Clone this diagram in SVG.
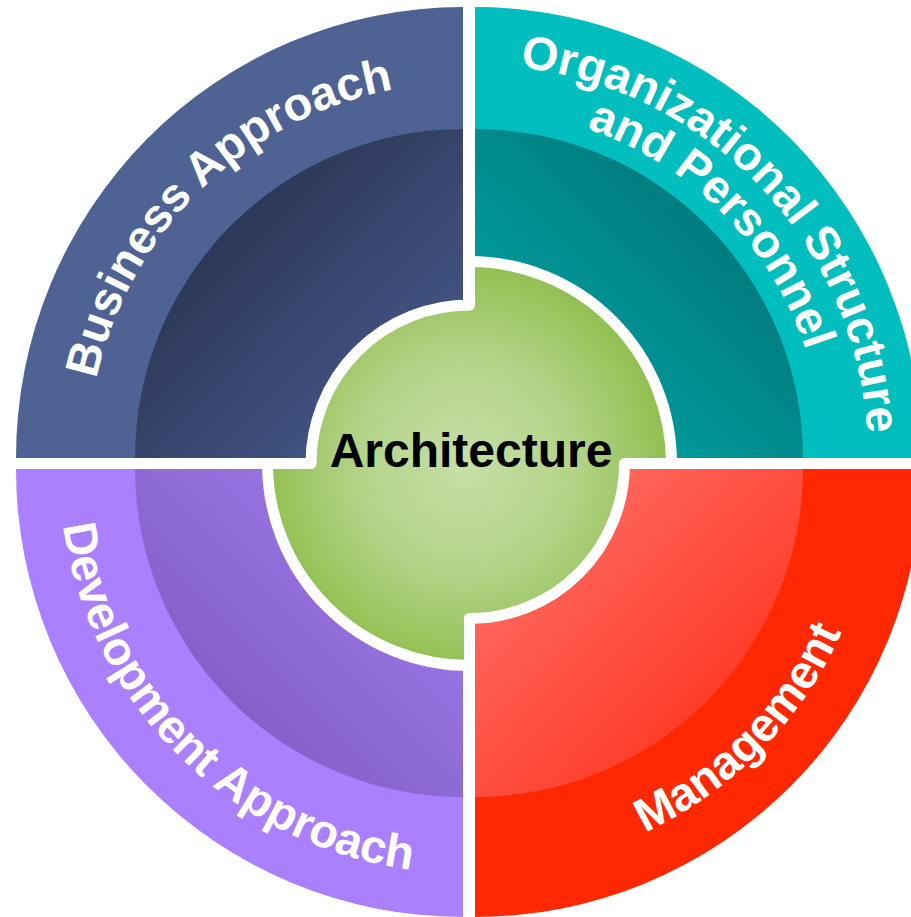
<svg xmlns="http://www.w3.org/2000/svg" xmlns:xlink="http://www.w3.org/1999/xlink" width="911" height="917" viewBox="0 0 911 917">
<style>
.lbl{font-family:"Liberation Sans",Arial,sans-serif;font-weight:bold;font-size:47px;fill:#ffffff}
.ctr{font-family:"Liberation Sans",Arial,sans-serif;font-weight:bold;font-size:48px;fill:#000000}
</style>
<defs>
<linearGradient id="gBlue" gradientUnits="userSpaceOnUse" x1="230" y1="225" x2="440" y2="435"><stop offset="0" stop-color="#2c3857"/><stop offset="1" stop-color="#4a5c90"/></linearGradient>
<linearGradient id="gTeal" gradientUnits="userSpaceOnUse" x1="710" y1="225" x2="500" y2="435"><stop offset="0" stop-color="#007c7e"/><stop offset="1" stop-color="#00a8a8"/></linearGradient>
<linearGradient id="gRed" gradientUnits="userSpaceOnUse" x1="500" y1="495" x2="710" y2="705"><stop offset="0" stop-color="#ff716b"/><stop offset="1" stop-color="#ff3c28"/></linearGradient>
<linearGradient id="gPurple" gradientUnits="userSpaceOnUse" x1="230" y1="705" x2="440" y2="495"><stop offset="0" stop-color="#8560c8"/><stop offset="1" stop-color="#a07ef0"/></linearGradient>
<radialGradient id="gGreen" gradientUnits="userSpaceOnUse" cx="465" cy="465" r="200"><stop offset="0" stop-color="#c6dfa6"/><stop offset="0.55" stop-color="#b2d387"/><stop offset="1" stop-color="#92c052"/></radialGradient>
<path id="pBlue" d="M172.6,695.2 A375,375 0 0 1 707.8,173.9"/>
<path id="pTeal1" d="M230.4,150.4 A393,393 0 0 1 769.4,718.4"/>
<path id="pTeal2" d="M252.9,190.1 A348,348 0 0 1 740.2,683.3"/>
<path id="pRed" d="M220.1,778.6 A401,401 0 0 0 779.7,208.3"/>
<path id="pPurple" d="M152,211.2 A404,404 0 0 0 724.6,776.9"/>
</defs>
<rect width="911" height="917" fill="#ffffff"/>
<g id="business-approach">
<path d="M463,458 L16,458 A447,451 0 0 1 463,7 Z" fill="#4e6393"/>
<path d="M463,458 L135,458 A328,329 0 0 1 463,129 Z" fill="url(#gBlue)"/>
<text class="lbl"><textPath xlink:href="#pBlue" href="#pBlue" startOffset="50%" text-anchor="middle">Business Approach</textPath></text>
</g>
<g id="organizational-structure">
<path d="M475,458 L475,7 A447,451 0 0 1 922,458 Z" fill="#00bdbe"/>
<path d="M475,458 L475,129 A328,329 0 0 1 803,458 Z" fill="url(#gTeal)"/>
<text class="lbl"><textPath xlink:href="#pTeal1" href="#pTeal1" startOffset="50%" text-anchor="middle">Organizational Structure</textPath></text>
<text class="lbl"><textPath xlink:href="#pTeal2" href="#pTeal2" startOffset="50%" text-anchor="middle">and Personnel</textPath></text>
</g>
<g id="management">
<path d="M475,469 L922,469 A447,448 0 0 1 475,917 Z" fill="#ff2800"/>
<path d="M475,469 L803,469 A328,328 0 0 1 475,797 Z" fill="url(#gRed)"/>
<text class="lbl"><textPath xlink:href="#pRed" href="#pRed" startOffset="50%" text-anchor="middle">Management</textPath></text>
</g>
<g id="development-approach">
<path d="M463,469 L463,917 A447,448 0 0 1 16,469 Z" fill="#ab80ff"/>
<path d="M463,469 L463,797 A328,328 0 0 1 135,469 Z" fill="url(#gPurple)"/>
<text class="lbl"><textPath xlink:href="#pPurple" href="#pPurple" startOffset="50%" text-anchor="middle">Development Approach</textPath></text>
</g>
<g id="architecture">
<path d="M469.5,261.5 A202,202 0 0 1 671.5,463.5 L624.5,463.5 A155,155 0 0 1 469.5,618.5 L469.5,665.5 A202,202 0 0 1 267.5,463.5 L311,463.5 A158.5,158.5 0 0 1 469.5,305 Z" fill="url(#gGreen)" stroke="#ffffff" stroke-width="11" stroke-linejoin="round"/>
<text class="ctr" x="471" y="467" text-anchor="middle">Architecture</text>
</g>
<g id="connectors"/>
</svg>
